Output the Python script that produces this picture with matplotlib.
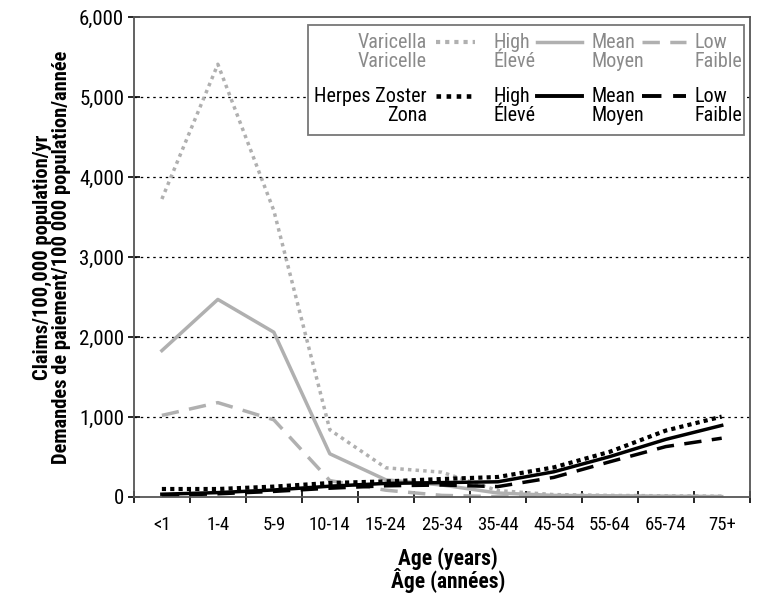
"""
Varicella / Herpes zoster claims by age group — line chart (high / mean / low)
"""
import matplotlib
matplotlib.use('Agg')
import matplotlib.pyplot as plt
from matplotlib.lines import Line2D
from matplotlib.patches import Rectangle
from matplotlib.ticker import FuncFormatter
import logging
logging.getLogger('matplotlib.font_manager').setLevel(logging.ERROR)

plt.rcParams['font.family'] = ['Roboto Condensed', 'Archivo Narrow', 'PT Sans Narrow',
                               'Sofia Sans Condensed', 'DejaVu Sans']

# ========== 数据 ==========
age_groups = ['<1', '1-4', '5-9', '10-14', '15-24', '25-34', '35-44',
              '45-54', '55-64', '65-74', '75+']

varicella_high = [3725, 5410, 3580, 840, 365, 310, 80, 30, 20, 15, 10]
varicella_mean = [1830, 2470, 2060, 540, 215, 150, 50, 20, 15, 10, 5]
varicella_low = [1020, 1180, 965, 205, 85, 20, 5, 5, 5, 5, 5]

zoster_high = [100, 100, 130, 175, 195, 225, 250, 370, 565, 830, 1005]
zoster_mean = [35, 55, 88, 135, 170, 180, 190, 315, 505, 720, 895]
zoster_low = [20, 40, 70, 110, 140, 150, 130, 245, 440, 630, 735]

GRAY = '#b0b0b0'
GRAY_TEXT = '#8a8a8a'


def main():
    fig = plt.figure(figsize=(7.65, 5.94), dpi=100)
    ax = fig.add_axes([0.175, 0.1633, 0.805, 0.808])
    x = range(len(age_groups))

    # 水痘（灰色）
    ax.plot(x, varicella_high, color=GRAY, lw=2.5, linestyle=(0, (1, 1.2)))
    ax.plot(x, varicella_mean, color=GRAY, lw=2.5, linestyle='-')
    ax.plot(x, varicella_low, color=GRAY, lw=2.5, linestyle=(0, (5, 3)))
    # 带状疱疹（黑色）
    ax.plot(x, zoster_high, color='black', lw=3, linestyle=(0, (1, 1)))
    ax.plot(x, zoster_mean, color='black', lw=2.5, linestyle='-')
    ax.plot(x, zoster_low, color='black', lw=2.5, linestyle=(0, (5, 3)))

    ax.set_xlim(-0.5, len(age_groups) - 0.5)
    ax.set_ylim(0, 6000)
    ax.set_yticks(range(0, 6001, 1000))
    ax.yaxis.set_major_formatter(FuncFormatter(lambda v, p: f'{int(v):,}'))
    ax.set_xticks([i - 0.5 for i in range(len(age_groups) + 1)])
    ax.set_xticklabels([])
    ax.set_xticks(list(x), minor=True)
    ax.set_xticklabels(age_groups, minor=True)
    ax.tick_params(axis='x', which='minor', length=0, labelsize=13.5, pad=14)
    ax.tick_params(axis='x', which='major', direction='inout', length=8, width=1.2)
    ax.tick_params(axis='y', direction='inout', length=8, width=1.2, labelsize=15, pad=3)

    for y in range(1000, 6000, 1000):
        ax.axhline(y, color='black', lw=0.9, linestyle=(0, (2, 3)), zorder=0)

    for s in ax.spines.values():
        s.set_color('#555555')
        s.set_linewidth(1.3)

    ax.set_xlabel('Age (years)\nÂge (années)', fontsize=15.5, fontweight='bold',
                  linespacing=0.92)
    ax.xaxis.set_label_coords(0.51, -0.104, transform=ax.transAxes)
    ax.xaxis.label.set_va('top')
    ax.set_ylabel('Claims/100,000 population/yr\nDemandes de paiement/100 000 population/année',
                  fontsize=14.8, fontweight='bold', linespacing=0.95, labelpad=6)

    # ========== 图例（手绘） ==========
    def px(xp, yp):
        # 像素 -> 轴坐标
        return (xp - 134) / 616, (497 - yp) / 480

    x0, y0 = px(308, 135)
    x1, y1 = px(744, 25)
    ax.add_patch(Rectangle((x0, y0), x1 - x0, y1 - y0, transform=ax.transAxes,
                           facecolor='white', edgecolor='#777777', lw=1.3, zorder=5))

    rows = [
        ('Varicella\nVaricelle', GRAY_TEXT, GRAY, 2.5, 52),
        ('Herpes Zoster\nZona', 'black', 'black', 2.8, 106),
    ]
    styles = [(0, (1, 1.2)), '-', (0, (5, 3))]
    entries = ['High\nÉlevé', 'Mean\nMoyen', 'Low\nFaible']
    handle_x = [(436, 475), (537, 582), (642, 686)]
    label_x = [494, 592, 695]
    for name, tcol, lcol, lw, yc in rows:
        tx, ty = px(427, yc)
        ax.text(tx, ty, name, transform=ax.transAxes, ha='right', va='center',
                fontsize=14.5, color=tcol, linespacing=1.0, zorder=6)
        for (hx0, hx1), lx, st, lab in zip(handle_x, label_x, styles, entries):
            a0, b = px(hx0, yc - 10)
            a1, _ = px(hx1, yc - 10)
            ax.add_line(Line2D([a0, a1], [b, b], transform=ax.transAxes, color=lcol,
                               lw=lw if st != styles[0] else lw + 0.5, linestyle=st, zorder=6))
            lxa, lya = px(lx, yc)
            ax.text(lxa, lya, lab, transform=ax.transAxes, ha='left', va='center',
                    fontsize=14.5, color=tcol, linespacing=1.0, zorder=6)

    fig.savefig('out.png', dpi=100)
    plt.close(fig)


if __name__ == '__main__':
    main()
